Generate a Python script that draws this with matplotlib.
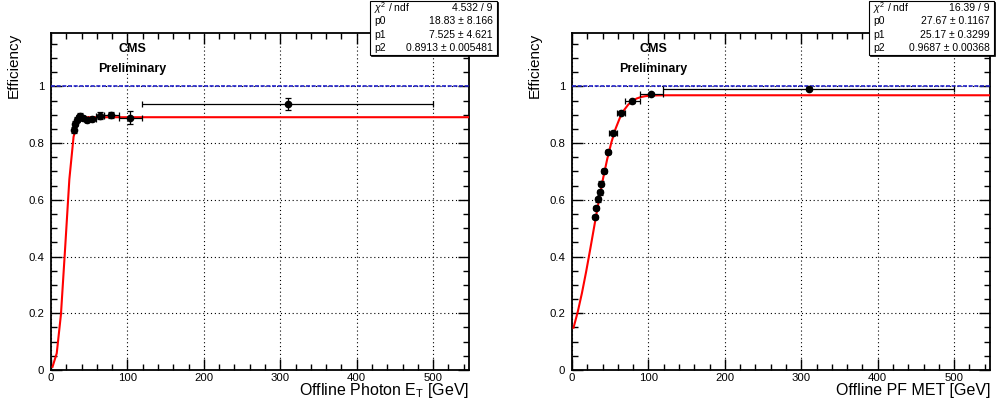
# Imported Libraries
import numpy as np
import matplotlib
matplotlib.use("Agg")
import matplotlib.pyplot as plt
from matplotlib.patches import Rectangle
from matplotlib.ticker import MultipleLocator
from math import erf, sqrt

plt.rcParams['font.family'] = ['Liberation Sans', 'DejaVu Sans']
plt.rcParams['mathtext.fontset'] = 'custom'
plt.rcParams['mathtext.rm'] = 'Liberation Sans'
plt.rcParams['mathtext.it'] = 'Liberation Sans:italic'

# Binning (same for both turn-on curves)
bin_centers = [30, 32, 34, 36, 38, 41.5, 46.5, 54, 64, 79, 104, 309.5]
bin_halfwidths = [1, 1, 1, 1, 1, 2.5, 2.5, 5, 5, 10, 15, 190.5]

# Photon ET efficiency
photon_eff = [0.847, 0.869, 0.883, 0.892, 0.897, 0.890, 0.883, 0.885, 0.897, 0.899, 0.890, 0.938]
photon_err = [0.010, 0.009, 0.008, 0.008, 0.008, 0.007, 0.007, 0.007, 0.013, 0.012, 0.023, 0.022]
photon_fit = [18.83, 7.525, 0.8913]
photon_stats = [(r"$\chi^2$ / ndf", "4.532 / 9"),
                ("p0", "18.83 ± 8.166"),
                ("p1", "7.525 ± 4.621"),
                ("p2", "0.8913 ± 0.005481")]

# PF MET efficiency
met_eff = [0.540, 0.572, 0.602, 0.626, 0.657, 0.702, 0.769, 0.836, 0.907, 0.947, 0.972, 0.992]
met_err = [0.008, 0.008, 0.008, 0.008, 0.008, 0.008, 0.007, 0.006, 0.005, 0.004, 0.004, 0.005]
met_fit = [27.67, 25.17, 0.9687]
met_stats = [(r"$\chi^2$ / ndf", "16.39 / 9"),
             ("p0", "27.67 ± 0.1167"),
             ("p1", "25.17 ± 0.3299"),
             ("p2", "0.9687 ± 0.00368")]

XMAX = 547
YMAX = 1.19
W, H = 999, 400

# Fit function (error function turn-on)
def turn_on(x, p):
    return np.array([p[2] * 0.5 * (1 + erf((xi - p[0]) / (sqrt(2) * p[1]))) for xi in x])

# Stats box drawn in pixel coords of the figure
def stats_box(fig, x0, x1, y0, y1, rows):
    fig.patches.append(Rectangle((x0 / W + 0.0012, 1 - y1 / H - 0.003), (x1 - x0) / W, (y1 - y0) / H,
                                 transform=fig.transFigure, facecolor='black', edgecolor='black', lw=0.5, zorder=10))
    fig.patches.append(Rectangle((x0 / W, 1 - y1 / H), (x1 - x0) / W, (y1 - y0) / H,
                                 transform=fig.transFigure, facecolor='white', edgecolor='black', lw=0.8, zorder=11))
    step = (y1 - y0) / len(rows)
    for i, (name, val) in enumerate(rows):
        yc = 1 - (y0 + step * (i + 0.5)) / H
        fig.text((x0 + 4) / W, yc, name, ha='left', va='center', fontsize=7.5, zorder=12)
        fig.text((x1 - 4) / W, yc, val, ha='right', va='center', fontsize=7.5, zorder=12)

# One panel
def draw_panel(ax, eff, err, fit, xtitle):
    ax.set_xlim(0, XMAX)
    ax.set_ylim(0, YMAX)
    ax.xaxis.set_major_locator(MultipleLocator(100))
    ax.xaxis.set_minor_locator(MultipleLocator(20))
    ax.yaxis.set_major_locator(MultipleLocator(0.2))
    ax.yaxis.set_minor_locator(MultipleLocator(0.05))
    ax.tick_params(which='both', direction='in', top=True, right=True, labelsize=8.2, width=1)
    ax.tick_params(which='major', length=8)
    ax.tick_params(which='minor', length=4)
    ax.tick_params(axis='x', pad=2)
    ax.tick_params(axis='y', pad=5)
    ax.set_yticks([0, 0.2, 0.4, 0.6, 0.8, 1.0])
    ax.set_yticklabels(["0", "0.2", "0.4", "0.6", "0.8", "1"])
    for s in ax.spines.values():
        s.set_linewidth(1.3)
    ax.grid(True, which='major', color='black', ls=(0, (1, 2.5)), lw=0.8)
    ax.set_axisbelow(True)

    xs = np.linspace(2, XMAX, 100)
    ax.plot(xs, turn_on(xs, fit), color='red', lw=1.5, zorder=3)
    ax.axhline(1.0, color='#2020c8', ls=(0, (2.4, 1.0)), lw=1.2, zorder=3)
    ax.errorbar(bin_centers, eff, xerr=bin_halfwidths, yerr=err, fmt='o', color='black',
                ms=4.5, elinewidth=0.9, capsize=2, capthick=0.9, zorder=4)

    ax.text(0.194, 0.951, "CMS", transform=ax.transAxes, ha='center', va='center',
            fontsize=9, fontweight='bold')
    ax.text(0.194, 0.892, "Preliminary", transform=ax.transAxes, ha='center', va='center',
            fontsize=9, fontweight='bold')
    ax.text(1.0, -0.062, xtitle, transform=ax.transAxes, ha='right', va='center', fontsize=11.5)
    ax.text(-0.0885, 1.0, "Efficiency", transform=ax.transAxes, ha='center', va='top',
            rotation=90, fontsize=11)

fig = plt.figure(figsize=(W / 100, H / 100), dpi=100)
ax1 = fig.add_axes([51 / W, 30 / H, 418 / W, 337.5 / H])
ax2 = fig.add_axes([572 / W, 30 / H, 418 / W, 337.5 / H])

draw_panel(ax1, photon_eff, photon_err, photon_fit, r"Offline Photon E$_\mathrm{T}$ [GeV]")
draw_panel(ax2, met_eff, met_err, met_fit, "Offline PF MET [GeV]")

stats_box(fig, 370, 497, 1, 55, photon_stats)
stats_box(fig, 869, 994, 1, 55, met_stats)

fig.savefig("out.png", dpi=100)
